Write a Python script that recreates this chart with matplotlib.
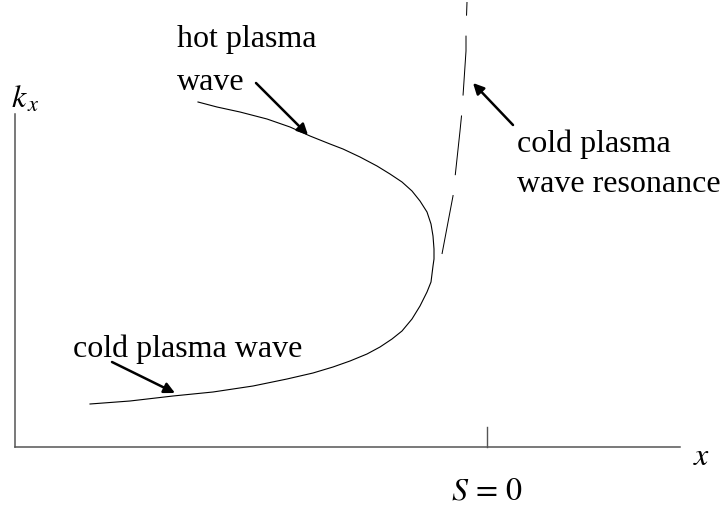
#Imports
import numpy as np
import matplotlib.pyplot as plt

#Hot plasma wave branch (picture pixel coords, y downwards)
wave_x = [198, 217, 240, 267, 290, 310, 330, 343, 360, 377, 390, 402, 412, 420, 427, 431, 433, 434,
          434, 433, 431, 427, 420, 412, 402, 392, 380, 367, 350, 333, 313, 287, 253, 213, 173, 130, 90]
wave_y = [103, 108, 113, 120, 128, 137, 145, 150, 158, 167, 175, 183, 192, 202, 213, 225, 237, 250,
          260, 267, 283, 293, 307, 320, 332, 340, 348, 355, 362, 368, 374, 380, 387, 393, 397, 402, 405]

#Cold plasma resonance (dashed)
res_x = [442, 449, 453, 460, 462, 466, 466, 467]
res_y = [255, 218, 197, 132, 112, 52, 32, 3]

#Axes
origin = (15, 448)
x_end = 680
y_end = 115
s0_x = 487

plt.rcParams['font.family'] = ['Liberation Serif', 'DejaVu Serif']
plt.rcParams['mathtext.fontset'] = 'stix'

fig = plt.figure(figsize=(7.28, 5.06), dpi=100)
ax = fig.add_axes([0, 0, 1, 1])
ax.set_xlim(0, 728)
ax.set_ylim(506, 0)
ax.axis('off')

#axis lines
ax.plot([origin[0], x_end], [origin[1], origin[1]], color='#555555', lw=1.1)
ax.plot([origin[0], origin[0]], [origin[1], y_end], color='#555555', lw=1.1)
ax.plot([s0_x, s0_x], [origin[1], 428], color='#555555', lw=1.0)

#curves
ax.plot(wave_x, wave_y, color='black', lw=0.8)
ax.plot(res_x, res_y, color='black', lw=0.72, dashes=(60, 20))

fs = 23
ax.text(177, 47, 'hot plasma', fontsize=fs, va='baseline')
ax.text(177, 90, 'wave', fontsize=fs, va='baseline')
ax.text(517, 152, 'cold plasma', fontsize=fs, va='baseline')
ax.text(517, 192, 'wave resonance', fontsize=fs, va='baseline')
ax.text(73, 357, 'cold plasma wave', fontsize=fs, va='baseline')

ax.text(11, 108, r'$k_{\,x}$', fontsize=fs, va='baseline')
ax.text(693, 465, r'$x$', fontsize=fs, va='baseline')
ax.text(s0_x, 500, r'$S\,=\,0$', fontsize=fs, va='baseline', ha='center')

#arrows
arrow = dict(arrowstyle='-|>', color='black', lw=1.8, mutation_scale=16, shrinkA=0, shrinkB=0)
ax.annotate('', xy=(308, 136), xytext=(256, 84), arrowprops=arrow)
ax.annotate('', xy=(473, 84), xytext=(513, 126), arrowprops=arrow)
ax.annotate('', xy=(175, 394), xytext=(112, 363), arrowprops=arrow)

plt.savefig('out.png', dpi=100)
